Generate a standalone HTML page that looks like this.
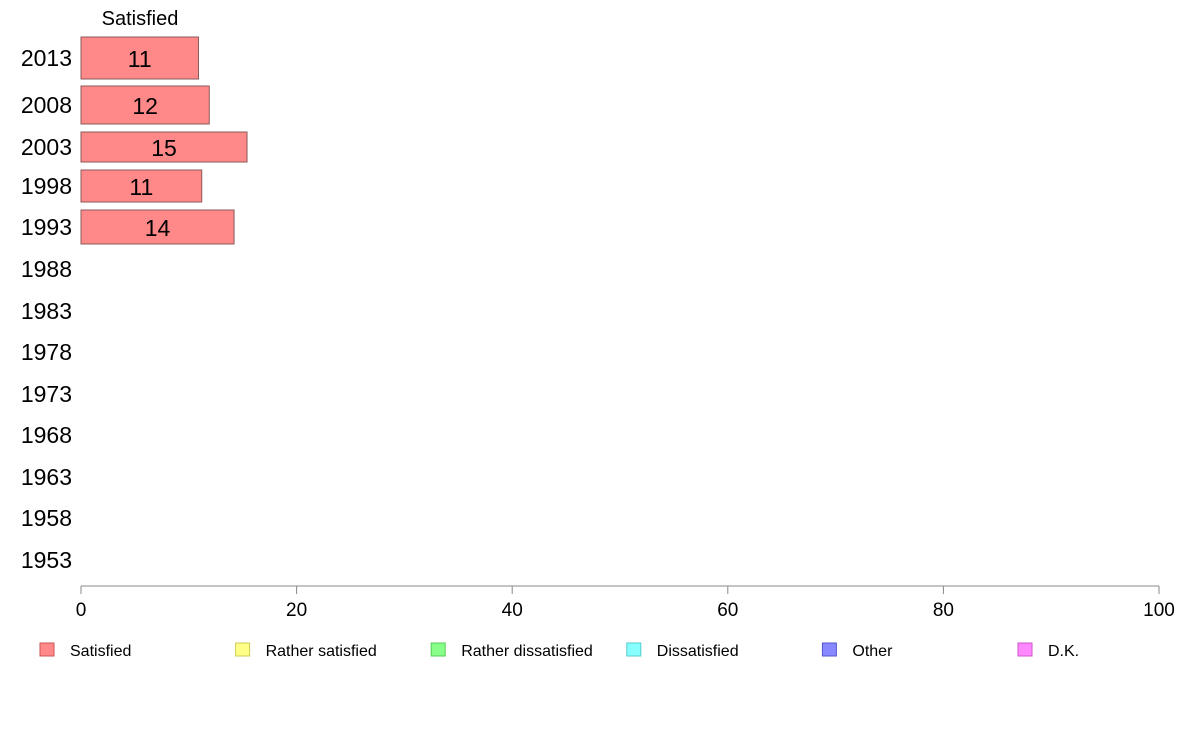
<!DOCTYPE html>
<html><head><meta charset="utf-8"><style>
html,body{margin:0;padding:0;background:#fff;}
svg{display:block;font-family:"Liberation Sans",Arial,sans-serif;}
</style></head><body>
<svg id="chart" width="1188" height="736" viewBox="0 0 1188 736" xmlns="http://www.w3.org/2000/svg">
<text x="140" y="25" font-size="20" text-anchor="middle">Satisfied</text>
<g id="bars"></g>
<g id="yaxis"></g>
<g id="xaxis"></g>
<g id="legend"></g>
</svg>
<script>
const years = ["2013","2008","2003","1998","1993","1988","1983","1978","1973","1968","1963","1958","1953"];
const rowCenters = [58,105,147,186,227,269,311,352,394,435,477,518,560];
const barHeights = [42,38,30,32,34,0,0,0,0,0,0,0,0];
const satisfied = [10.9,11.9,15.4,11.2,14.2,null,null,null,null,null,null,null,null];
const xTicks = [0,20,40,60,80,100];
const legendLabels = ["Satisfied","Rather satisfied","Rather dissatisfied","Dissatisfied","Other","D.K."];
const legendColors = ["#ff8888","#ffff88","#88ff88","#88ffff","#8888ff","#ff88ff"];
const legendBorders = ["#cc5555","#cccc55","#55cc55","#55cccc","#5555cc","#cc55cc"];

const NS="http://www.w3.org/2000/svg";
const x0=81,x1=1159;
function xs(v){return x0+(x1-x0)*v/100;}
function mk(tag,attrs,parent,text){const e=document.createElementNS(NS,tag);for(const k in attrs)e.setAttribute(k,attrs[k]);if(text!==undefined)e.textContent=text;parent.appendChild(e);return e;}

const gb=document.getElementById('bars');
const gy=document.getElementById('yaxis');
years.forEach((y,i)=>{
  const t=mk('text',{x:72,y:rowCenters[i]+8,'font-size':23,'text-anchor':'end'},gy,y);
  
  
  const v=satisfied[i];
  if(v!==null){
    const h=barHeights[i];
    const r=mk('rect',{x:x0,y:rowCenters[i]-h/2,width:xs(v)-x0,height:h,fill:'#ff8888',stroke:'#8a5a5a','stroke-width':1},gb);
    
    
    const l=mk('text',{x:(x0+xs(v))/2,y:rowCenters[i]+9,'font-size':23,'text-anchor':'middle'},gb,String(Math.round(v)));
    
    
  }
});
const gx=document.getElementById('xaxis');
const ax=mk('line',{x1:x0,x2:x1,y1:586,y2:586,stroke:'#888','stroke-width':1},gx);


xTicks.forEach(t=>{
  const tk=mk('line',{x1:xs(t),x2:xs(t),y1:586,y2:594,stroke:'#888','stroke-width':1},gx);
  
  
  const tl=mk('text',{x:xs(t),y:616,'font-size':19,'text-anchor':'middle'},gx,String(t));
  
  
});
const gl=document.getElementById('legend');
legendLabels.forEach((lab,i)=>{
  const lx=40+i*195.6;
  const g=mk('g',{},gl);
  
  
  mk('rect',{x:lx,y:643,width:14,height:13,fill:legendColors[i],stroke:legendBorders[i],'stroke-width':1},g);
  mk('text',{x:lx+30,y:656,'font-size':16},g,lab);
});
</script>
</body></html>
